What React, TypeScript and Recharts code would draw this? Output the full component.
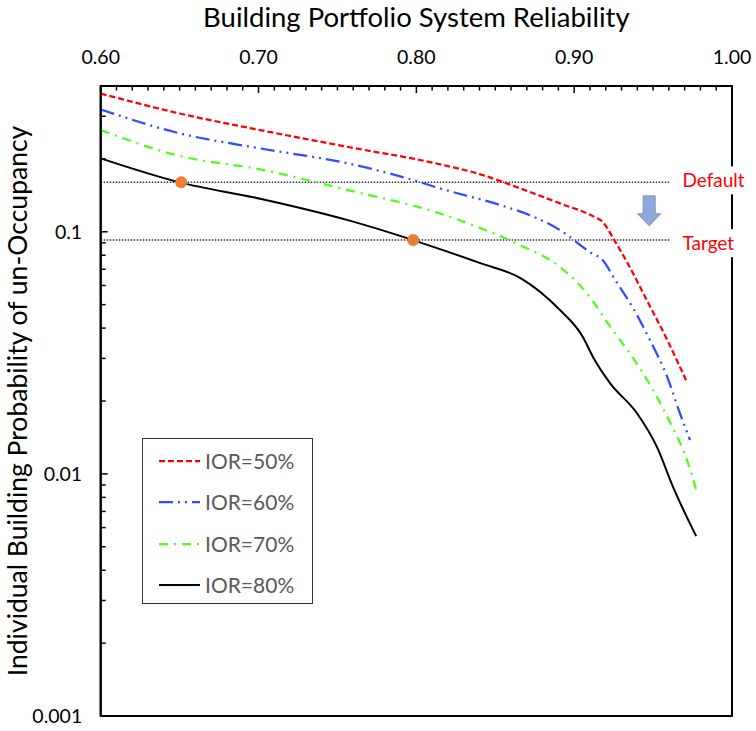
import React from "react";
import {
  LineChart,
  Line,
  XAxis,
  YAxis,
  ReferenceLine,
  ReferenceDot,
  ReferenceArea,
  Legend,
} from "recharts";

const FONT = "Lato, 'Open Sans', sans-serif";

// [building portfolio system reliability, probability of un-occupancy]
const ior50: [number, number][] = [
  [0.6, 0.372], [0.65, 0.308], [0.701, 0.263], [0.756, 0.2245], [0.815, 0.19],
  [0.8405, 0.1727], [0.866, 0.1509], [0.891, 0.131], [0.913, 0.115], [0.918, 0.11],
  [0.925, 0.0933], [0.9335, 0.0749], [0.946, 0.0522], [0.959, 0.0357], [0.9715, 0.0239],
];
const ior60: [number, number][] = [
  [0.6, 0.32], [0.65, 0.255], [0.701, 0.221], [0.756, 0.192], [0.798, 0.1635],
  [0.815, 0.151], [0.853, 0.129], [0.872, 0.117], [0.891, 0.1016], [0.91, 0.0824],
  [0.918, 0.0764], [0.926, 0.0632], [0.937, 0.0488], [0.948, 0.0357], [0.959, 0.0251],
  [0.967, 0.0178], [0.9734, 0.0138],
];
const ior70: [number, number][] = [
  [0.6, 0.263], [0.65, 0.2055], [0.701, 0.181], [0.756, 0.149], [0.815, 0.119],
  [0.8405, 0.1036], [0.866, 0.088], [0.891, 0.0715], [0.908, 0.0558], [0.923, 0.0404],
  [0.937, 0.0303], [0.95, 0.0222], [0.961, 0.0162], [0.9715, 0.0114], [0.9779, 0.00832],
];
const ior80: [number, number][] = [
  [0.6, 0.201], [0.65, 0.16], [0.701, 0.137], [0.756, 0.112], [0.798, 0.0924],
  [0.815, 0.0848], [0.8405, 0.0742], [0.866, 0.0644], [0.891, 0.0475], [0.9056, 0.0367],
  [0.912, 0.0303], [0.9227, 0.0237], [0.9398, 0.0178], [0.9525, 0.0129], [0.9627, 0.00881],
  [0.9773, 0.00553],
];

const seriesNames = ["IOR=50%", "IOR=60%", "IOR=70%", "IOR=80%"];

const xDomain: [number, number] = [0.6, 1.0];
const yDomain: [number, number] = [0.001, 0.4];
const xMajorTicks = [0.6, 0.7, 0.8, 0.9, 1.0];
const yMajorTicks = [0.001, 0.01, 0.1];

// threshold levels and where the IOR=80% curve meets them
const defaultLevel = 0.16;
const targetLevel = 0.0924;
const thresholdEnd = 0.961;
const crossingPoints: [number, number][] = [
  [0.651, 0.16],
  [0.798, 0.0924],
];
const arrowPoint: [number, number] = [0.9475, 0.122];

const toPoints = (rows: [number, number][]) => rows.map(([x, y]) => ({ x, y }));

const series = [
  { name: seriesNames[0], data: toPoints(ior50), color: "#FF0000", dash: "6 3", width: 2.25 },
  { name: seriesNames[1], data: toPoints(ior60), color: "#2F4DFF", dash: "14 5 2 5 2 5", width: 2.25 },
  { name: seriesNames[2], data: toPoints(ior70), color: "#4CFF1A", dash: "9 6 2 6", width: 2.25 },
  { name: seriesNames[3], data: toPoints(ior80), color: "#000000", dash: undefined, width: 2 },
];

// minor ticks: every 0.01 on x, 1..9 per decade on y
const xAllTicks: number[] = [];
for (let i = Math.round(xDomain[0] * 100); i <= Math.round(xDomain[1] * 100); i++) {
  xAllTicks.push(i / 100);
}
const yAllTicks: number[] = [];
yMajorTicks.forEach((d) => {
  for (let k = 1; k <= 9; k++) {
    const v = Number((k * d).toPrecision(6));
    if (v <= yDomain[1] + 1e-12) yAllTicks.push(v);
  }
});

const isMajorX = (v: number) => xMajorTicks.some((t) => Math.abs(t - v) < 1e-6);
const isMajorY = (v: number) => yMajorTicks.some((t) => Math.abs(t - v) < 1e-9);

const X_TICK_MARGIN = 22.5;
const Y_TICK_MARGIN = 18.5;
const TICK_FONT = 19.5;
const TITLE_FONT = 27.5;

const XTick = (props: any) => {
  const { x, y, payload } = props;
  const v = payload.value as number;
  const axisY = y + X_TICK_MARGIN;
  const major = isMajorX(v);
  return (
    <g>
      <line x1={x} x2={x} y1={axisY} y2={axisY + (major ? 7 : 4.5)} stroke="#000" strokeWidth={1.5} />
      {major && (
        <text x={x} y={y} textAnchor="middle" fontSize={TICK_FONT} fontFamily={FONT} fill="#000">
          {v.toFixed(2)}
        </text>
      )}
    </g>
  );
};

const YTick = (props: any) => {
  const { x, y, payload } = props;
  const v = payload.value as number;
  const axisX = x + Y_TICK_MARGIN;
  const major = isMajorY(v);
  return (
    <g>
      <line x1={axisX} x2={axisX + (major ? 7 : 5)} y1={y} y2={y} stroke="#000" strokeWidth={1.5} />
      {major && (
        <text x={x} y={y} dy="0.35em" textAnchor="end" fontSize={TICK_FONT} fontFamily={FONT} fill="#000">
          {String(v)}
        </text>
      )}
    </g>
  );
};

const xTitle = (props: any) => {
  const vb = props.viewBox;
  return (
    <text x={vb.x + vb.width / 2} y={vb.y + 27} textAnchor="middle" fontSize={TITLE_FONT} fontFamily={FONT} fill="#000">
      Building Portfolio System Reliability
    </text>
  );
};

const yTitle = (props: any) => {
  const vb = props.viewBox;
  const cx = 27;
  const cy = vb.y + vb.height / 2;
  return (
    <text
      x={cx}
      y={cy}
      transform={`rotate(-90, ${cx}, ${cy})`}
      textAnchor="middle"
      fontSize={26.5}
      fontFamily={FONT}
      fill="#000"
    >
      Individual Building Probability of un-Occupancy
    </text>
  );
};

const LevelTag = (props: any) => {
  const { cx, cy, text, dy } = props;
  return (
    <g>
      <rect x={cx + 7} y={cy + dy - 14} width={72} height={28} fill="#fff" />
      <text x={cx + 12} y={cy + dy} dy="0.35em" fill="#FF0000" fontSize={19} fontFamily={FONT}>
        {text}
      </text>
    </g>
  );
};

const DownArrow = (props: any) => {
  const { cx, cy } = props;
  const d = `M${cx - 6},${cy - 15} L${cx + 6},${cy - 15} L${cx + 6},${cy + 3} L${cx + 11.5},${cy + 3} L${cx},${cy + 15} L${cx - 11.5},${cy + 3} L${cx - 6},${cy + 3} Z`;
  return <path d={d} fill="#8EA9DB" stroke="#7A93C2" strokeWidth={1} />;
};

const renderLegend = () => (
  <div
    style={{
      width: 171,
      height: 166,
      border: "1.5px solid #333",
      boxSizing: "border-box",
      background: "#fff",
      position: "relative",
      fontFamily: FONT,
    }}
  >
    {series.map((s, i) => (
      <div
        key={s.name}
        style={{
          position: "absolute",
          left: 16,
          top: 22 + i * 41.3 - 14,
          height: 28,
          display: "flex",
          alignItems: "center",
          whiteSpace: "nowrap",
        }}
      >
        <svg width={42} height={6} style={{ display: "block" }}>
          <line x1={0} y1={3} x2={41} y2={3} stroke={s.color} strokeWidth={s.width} strokeDasharray={s.dash} />
        </svg>
        <span style={{ marginLeft: 4, fontSize: 21, color: "#595959", lineHeight: "28px" }}>{s.name}</span>
      </div>
    ))}
  </div>
);

export default function App() {
  return (
    <div style={{ position: "absolute", left: 0, top: 0 }}>
      <LineChart width={756} height={731} margin={{ top: 0, right: 24, bottom: 15, left: 0 }}>
        <XAxis
          type="number"
          dataKey="x"
          orientation="top"
          domain={xDomain}
          allowDataOverflow
          ticks={xAllTicks}
          interval={0}
          height={86}
          tickSize={0}
          tickMargin={X_TICK_MARGIN}
          tickLine={false}
          axisLine={{ stroke: "#000", strokeWidth: 2 }}
          tick={(p: any) => <XTick {...p} />}
          label={xTitle}
        />
        <YAxis
          type="number"
          scale="log"
          domain={yDomain}
          allowDataOverflow
          ticks={yAllTicks}
          interval={0}
          width={100.7}
          tickSize={0}
          tickMargin={Y_TICK_MARGIN}
          tickLine={false}
          axisLine={{ stroke: "#000", strokeWidth: 2 }}
          tick={(p: any) => <YTick {...p} />}
          label={yTitle}
        />
        <ReferenceArea
          x1={xDomain[0]}
          x2={xDomain[1]}
          y1={yDomain[0]}
          y2={yDomain[1]}
          fill="none"
          fillOpacity={0}
          stroke="#000"
          strokeWidth={2}
          ifOverflow="visible"
        />
        <ReferenceLine
          segment={[{ x: xDomain[0], y: defaultLevel }, { x: thresholdEnd, y: defaultLevel }]}
          stroke="#333"
          strokeWidth={1.5}
          strokeDasharray="1.5 1.5"
          ifOverflow="visible"
        />
        <ReferenceLine
          segment={[{ x: xDomain[0], y: targetLevel }, { x: thresholdEnd, y: targetLevel }]}
          stroke="#333"
          strokeWidth={1.5}
          strokeDasharray="1.5 1.5"
          ifOverflow="visible"
        />
        {series.map((s) => (
          <Line
            key={s.name}
            name={s.name}
            data={s.data}
            dataKey="y"
            type="monotone"
            stroke={s.color}
            strokeWidth={s.width}
            strokeDasharray={s.dash}
            dot={false}
            activeDot={false}
            isAnimationActive={false}
          />
        ))}
        {crossingPoints.map(([x, y]) => (
          <ReferenceDot key={x} x={x} y={y} r={6} fill="#ED7D31" stroke="none" ifOverflow="visible" />
        ))}
        <ReferenceDot
          x={thresholdEnd}
          y={defaultLevel}
          r={1}
          ifOverflow="visible"
          shape={(p: any) => <LevelTag {...p} text="Default" dy={-2} />}
        />
        <ReferenceDot
          x={thresholdEnd}
          y={targetLevel}
          r={1}
          ifOverflow="visible"
          shape={(p: any) => <LevelTag {...p} text="Target" dy={3} />}
        />
        <ReferenceDot
          x={arrowPoint[0]}
          y={arrowPoint[1]}
          r={1}
          ifOverflow="visible"
          shape={(p: any) => <DownArrow {...p} />}
        />
        <Legend
          layout="vertical"
          align="center"
          verticalAlign="middle"
          content={renderLegend}
          wrapperStyle={{ left: 142, top: 438, width: 171, height: 166 }}
        />
      </LineChart>
    </div>
  );
}
